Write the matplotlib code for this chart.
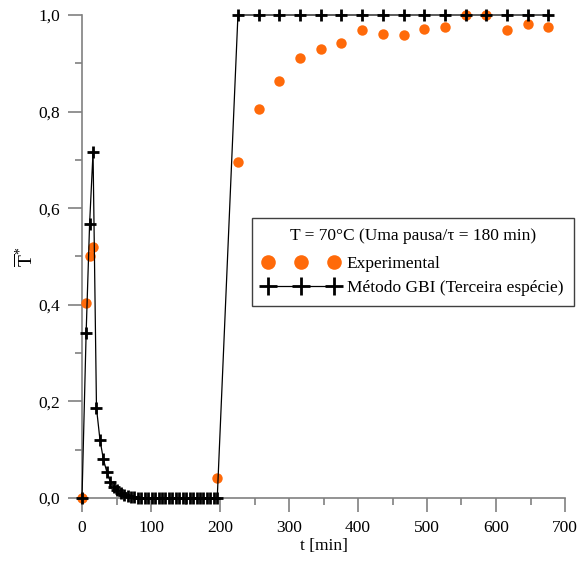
import matplotlib
matplotlib.use("Agg")
import matplotlib.pyplot as plt
from matplotlib.ticker import FuncFormatter, MultipleLocator

# Experimental points
t_exp = [0, 6, 11, 16, 196, 226, 256, 286, 316, 346, 376, 406, 436,
         466, 496, 526, 556, 586, 616, 646, 676]
T_exp = [0.0, 0.403, 0.501, 0.520, 0.041, 0.696, 0.805, 0.863, 0.910,
         0.929, 0.941, 0.969, 0.961, 0.959, 0.970, 0.976, 0.999, 0.999,
         0.969, 0.981, 0.976]

# GBI method (third kind)
t_gbi = [0, 6, 11, 16, 21, 26, 31, 36, 41, 46, 51, 56, 61, 66, 71, 76, 81,
         86, 91, 96, 101, 106, 111, 116, 121, 126, 131, 136, 141, 146, 151,
         156, 161, 166, 171, 176, 181, 186, 191, 196,
         226, 256, 286, 316, 346, 376, 406, 436, 466, 496, 526, 556, 586,
         616, 646, 676]
T_gbi = [0.0, 0.342, 0.567, 0.716, 0.186, 0.121, 0.080, 0.054, 0.034, 0.023,
         0.016, 0.011, 0.007, 0.005, 0.003, 0.002, 0.001,
         0.0, 0.0, 0.0, 0.0, 0.0, 0.0, 0.0, 0.0, 0.0, 0.0, 0.0, 0.0, 0.0, 0.0,
         0.0, 0.0, 0.0, 0.0, 0.0, 0.0, 0.0, 0.0, 0.0,
         1.0, 1.0, 1.0, 1.0, 1.0, 1.0, 1.0, 1.0, 1.0, 1.0, 1.0, 1.0, 1.0,
         1.0, 1.0, 1.0]

plt.rcParams["font.family"] = ["Liberation Serif", "DejaVu Serif"]
plt.rcParams["mathtext.fontset"] = "custom"
plt.rcParams["mathtext.rm"] = "Liberation Serif"
plt.rcParams["mathtext.it"] = "Liberation Serif:italic"

fig = plt.figure(figsize=(5.79, 5.63), dpi=100)
ax = fig.add_axes([82 / 579, 65 / 563, 483 / 579, 483 / 563])

orange = "#ff6a0a"
grey = "#808080"

ax.plot(t_exp, T_exp, linestyle="none", marker="o", color=orange,
        markersize=7.5, markeredgewidth=0, clip_on=False, zorder=3,
        label="Experimental")
ax.plot(t_gbi, T_gbi, color="black", linewidth=0.9, marker="+",
        markersize=9, markeredgewidth=2, clip_on=False, zorder=4,
        label="Método GBI (Terceira espécie)")

ax.set_xlim(0, 700)
ax.set_ylim(0, 1.0)
ax.xaxis.set_major_locator(MultipleLocator(100))
ax.xaxis.set_minor_locator(MultipleLocator(50))
ax.yaxis.set_major_locator(MultipleLocator(0.2))
ax.yaxis.set_minor_locator(MultipleLocator(0.1))
ax.yaxis.set_major_formatter(FuncFormatter(lambda v, p: f"{v:.1f}".replace(".", ",")))

for side in ("top", "right"):
    ax.spines[side].set_visible(False)
for side in ("left", "bottom"):
    ax.spines[side].set_color(grey)
    ax.spines[side].set_linewidth(1.2)

ax.tick_params(which="major", direction="out", length=10, width=1.2,
               color=grey, labelsize=12.5, pad=6)
ax.tick_params(which="minor", direction="out", length=5, width=1.2, color=grey)

ax.set_xlabel("t [min]", fontsize=12.5, labelpad=1)
ax.set_ylabel(r"$\overline{\mathrm{T}}^{*}$", fontsize=14, labelpad=1)

leg = ax.legend(loc="upper left", bbox_to_anchor=(252 / 579, 345 / 563),
                bbox_transform=fig.transFigure, numpoints=3, handlelength=4.4,
                handletextpad=0.45, markerscale=1.4, fontsize=12.5,
                title="T = 70°C (Uma pausa/τ = 180 min)", title_fontsize=12.5,
                fancybox=False, framealpha=1, edgecolor="#404040",
                borderpad=0.6, labelspacing=0.45, borderaxespad=0,
                handleheight=0.7)
leg.get_frame().set_linewidth(1.0)
leg._legend_box.sep = 8

fig.savefig("out.png", dpi=100)
